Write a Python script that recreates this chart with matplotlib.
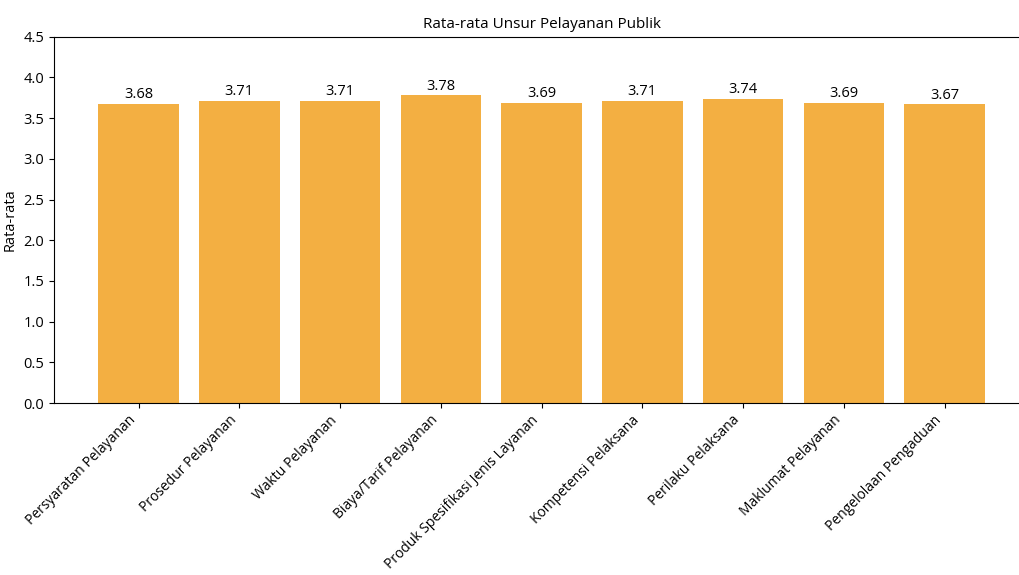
import matplotlib.pyplot as plt

plt.rcParams['font.family'] = ['Open Sans', 'DejaVu Sans']

unsur = ['Persyaratan Pelayanan', 'Prosedur Pelayanan', 'Waktu Pelayanan',
         'Biaya/Tarif Pelayanan', 'Produk Spesifikasi Jenis Layanan',
         'Kompetensi Pelaksana', 'Perilaku Pelaksana', 'Maklumat Pelayanan',
         'Pengelolaan Pengaduan']
rata_rata = [3.68, 3.71, 3.71, 3.78, 3.69, 3.71, 3.74, 3.69, 3.67]

fig, ax = plt.subplots(figsize=(10.19, 5.75), dpi=100)
# axes run a little past the right edge in the original screenshot
fig.subplots_adjust(left=0.053, right=1.01, bottom=0.299, top=0.936)

bars = ax.bar(unsur, rata_rata, color='#F3AF42')
for b, v in zip(bars, rata_rata):
    ax.text(b.get_x() + b.get_width() / 2, v + 0.02, f'{v:.2f}',
            ha='center', va='bottom', fontsize=10.5)

ax.set_ylim(0, 4.5)
ax.set_ylabel('Rata-rata', fontsize=10.5)
ax.set_title('Rata-rata Unsur Pelayanan Publik', fontsize=11)
plt.xticks(rotation=45, ha='right', fontsize=10)
plt.yticks(fontsize=10.5)

plt.savefig('out.png', dpi=100)
